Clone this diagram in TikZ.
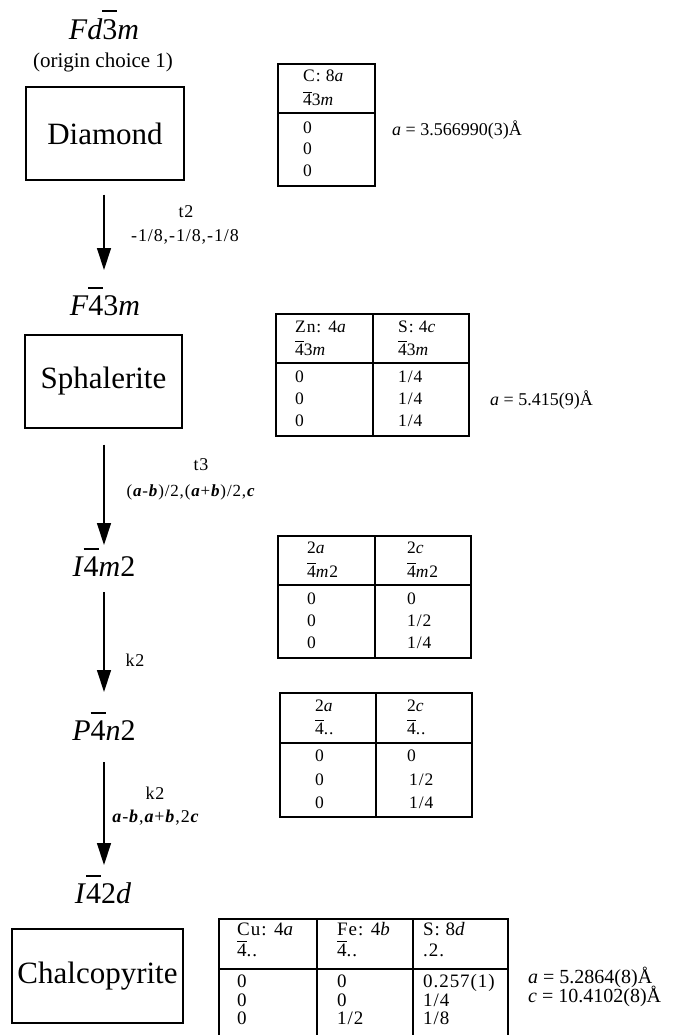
\documentclass[tikz,border=0pt]{standalone}
\usepackage{fontspec}
\setmainfont{Liberation Serif}
\newfontfamily\smallserif[LetterSpace=5]{Liberation Serif}
\usetikzlibrary{arrows.meta}
\newcommand\bv[1]{\textbf{\textit{#1}}}
% digit with a bar above it: optional gap, digit
\newcommand\ob[2][0.08em]{\begingroup\setbox0\hbox{#2}\vbox{\hrule height 0.07em width \wd0 \kern#1\box0}\endgroup}
\begin{document}
\begin{tikzpicture}[x=1pt,y=-1pt,
  box/.style={draw,line width=1.2pt,inner sep=0pt,font=\fontsize{31}{36}\selectfont},
  sg/.style={inner sep=0pt,anchor=base,font=\fontsize{30}{36}\selectfont},
  note/.style={inner sep=0pt,font=\fontsize{21}{24}\selectfont},
  lab/.style={inner sep=0pt,font=\smallserif\fontsize{18}{22}\selectfont},
  cell/.style={inner sep=0pt,anchor=base west,font=\smallserif\fontsize{17.5}{20}\selectfont},
  bigcell/.style={cell,font=\smallserif\fontsize{19}{22}\selectfont},
  lat/.style={inner sep=0pt,anchor=base west,font=\fontsize{18}{22}\selectfont},
  biglat/.style={lat,font=\fontsize{20}{24}\selectfont},
  tbl/.style={draw,line width=1.2pt,inner sep=0pt},
  rule/.style={line width=1.6pt},
  grid/.style={line width=1.2pt},
  arr/.style={line width=1.3pt,-{Triangle[length=22pt,width=14pt]}}
]
\useasboundingbox (0,0) rectangle (680,1035);

% space groups and structures
\node[sg] (sg1) at (104,40) {\textit{Fd}\ob[0.28em]{3}\textit{m}};
\node[note] (oc) at (103,62) {(origin choice 1)};
\node[box, minimum width=158pt, minimum height=93pt] (dia) at (105,133.5) {Diamond};
\node[sg] (sg2) at (105,315) {\textit{F}\ob[0.22em]{4}3\textit{m}};
\node[box, minimum width=157pt, minimum height=93pt] (sph) at (103.5,381.5) {Sphalerite};
\node[sg] (sg3) at (104,576) {\textit{I}\ob[0.22em]{4}\textit{m}2};
\node[sg] (sg4) at (104,740) {\textit{P}\ob[0.22em]{4}\textit{n}2};
\node[sg] (sg5) at (103,903) {\textit{I}\ob[0.22em]{4}2\textit{d}};
\node[box, minimum width=171pt, minimum height=94pt] (chal) at (97.5,976) {Chalcopyrite};

% arrows
\draw[arr, shorten <=14pt, shorten >=45pt] (dia.south -| sg3.base) -- (sg3.base |- sg2.base);
\draw[arr, shorten <=16pt, shorten >=31pt] (sph.south -| sg3.base) -- (sg3.base);
\draw[arr, shorten <=16pt, shorten >=48pt] (sg3.base) -- (sg4.base);
\draw[arr, shorten <=22pt, shorten >=38pt] (sg4.base) -- (sg4.base |- sg5.base);

% arrow labels
\node[lab] (l1a) at (186,212) {t2};
\node[lab] (l1b) at (185,237) {-1/8,-1/8,-1/8};
\node[lab] (l2a) at (201,465) {t3};
\node[lab, font=\smallserif\fontsize{17}{20}\selectfont] (l2b) at (191,492) {(\bv{a}-\bv{b})/2,(\bv{a}+\bv{b})/2,\bv{c}};
\node[lab] (l3) at (135,660) {k2};
\node[lab] (l4a) at (155,793) {k2};
\node[lab] (l4b) at (156,818) {\bv{a}-\bv{b},\bv{a}+\bv{b},2\bv{c}};

% table 1
\node[tbl, minimum width=97pt, minimum height=122pt] (T1) at (326.5,125) {};
\draw[rule] (278,113) -- (375,113);
\node[cell] (t1h1) at (303,82) {C: 8\textit{a}};
\node[cell] (t1h2) at (303,106) {\ob{4}3\textit{m}};
\node[cell] (t1r1) at (303,134) {0};
\node[cell] (t1r2) at (303,155) {0};
\node[cell] (t1r3) at (303,176) {0};
\node[lat] (lat1) at (392,136) {\textit{a} = 3.566990(3)Å};

% table 2
\node[tbl, minimum width=193pt, minimum height=122pt] (T2) at (372.5,375) {};
\draw[grid] (373,314) -- (373,436);
\draw[rule] (276,363) -- (469,363);
\node[cell] (t2h1a) at (295,332) {Zn: 4\textit{a}};
\node[cell] (t2h1b) at (398,332) {S: 4\textit{c}};
\node[cell] (t2h2a) at (295,355) {\ob{4}3\textit{m}};
\node[cell] (t2h2b) at (398,355) {\ob{4}3\textit{m}};
\node[cell] (t2r1a) at (295,382) {0};
\node[cell] (t2r2a) at (295,404) {0};
\node[cell] (t2r3a) at (295,426) {0};
\node[cell] (t2r1b) at (398,382) {1/4};
\node[cell] (t2r2b) at (398,404) {1/4};
\node[cell] (t2r3b) at (398,426) {1/4};
\node[lat] (lat2) at (490,405) {\textit{a} = 5.415(9)Å};

% table 3
\node[tbl, minimum width=193pt, minimum height=122pt] (T3) at (374.5,597) {};
\draw[grid] (375,536) -- (375,658);
\draw[rule] (278,585) -- (471,585);
\node[cell] (t3h1a) at (307,553) {2\textit{a}};
\node[cell] (t3h1b) at (407,553) {2\textit{c}};
\node[cell] (t3h2a) at (307,577) {\ob{4}\textit{m}2};
\node[cell] (t3h2b) at (407,577) {\ob{4}\textit{m}2};
\node[cell] (t3r1a) at (307,604) {0};
\node[cell] (t3r2a) at (307,626) {0};
\node[cell] (t3r3a) at (307,648) {0};
\node[cell] (t3r1b) at (407,604) {0};
\node[cell] (t3r2b) at (407,626) {1/2};
\node[cell] (t3r3b) at (407,648) {1/4};

% table 4
\node[tbl, minimum width=192pt, minimum height=124pt] (T4) at (376,755) {};
\draw[grid] (376,693) -- (376,817);
\draw[rule] (280,743) -- (472,743);
\node[cell] (t4h1a) at (315,711) {2\textit{a}};
\node[cell] (t4h1b) at (407,711) {2\textit{c}};
\node[cell] (t4h2a) at (315,734) {\ob{4}..};
\node[cell] (t4h2b) at (407,734) {\ob{4}..};
\node[cell] (t4r1a) at (315,761) {0};
\node[cell] (t4r2a) at (315,785) {0};
\node[cell] (t4r3a) at (315,808) {0};
\node[cell] (t4r1b) at (407,761) {0};
\node[cell] (t4r2b) at (409,785) {1/2};
\node[cell] (t4r3b) at (409,808) {1/4};

% table 5 (open at the bottom)
\draw[grid] (219,1036) -- (219,919) -- (508,919) -- (508,1036);
\draw[grid] (317,919) -- (317,1036);
\draw[grid] (413,919) -- (413,1036);
\draw[rule] (219,969) -- (508,969);
\node[bigcell] (t5h1a) at (237,935.5) {Cu: 4\textit{a}};
\node[bigcell] (t5h1b) at (337,935.5) {Fe: 4\textit{b}};
\node[bigcell] (t5h1c) at (423,935.5) {S: 8\textit{d}};
\node[bigcell] (t5h2a) at (237,956) {\ob{4}..};
\node[bigcell] (t5h2b) at (337,956) {\ob{4}..};
\node[bigcell] (t5h2c) at (423,956) {.2.};
\node[bigcell] (t5r1a) at (237,987) {0};
\node[bigcell] (t5r2a) at (237,1006) {0};
\node[bigcell] (t5r3a) at (237,1024) {0};
\node[bigcell] (t5r1b) at (337,987) {0};
\node[bigcell] (t5r2b) at (337,1006) {0};
\node[bigcell] (t5r3b) at (337,1024) {1/2};
\node[bigcell] (t5r1c) at (423,987) {0.257(1)};
\node[bigcell] (t5r2c) at (423,1006) {1/4};
\node[bigcell] (t5r3c) at (423,1024) {1/8};
\node[biglat] (lat3) at (528,983) {\textit{a} = 5.2864(8)Å};
\node[biglat] (lat4) at (528,1002) {\textit{c} = 10.4102(8)Å};
\end{tikzpicture}
\end{document}
